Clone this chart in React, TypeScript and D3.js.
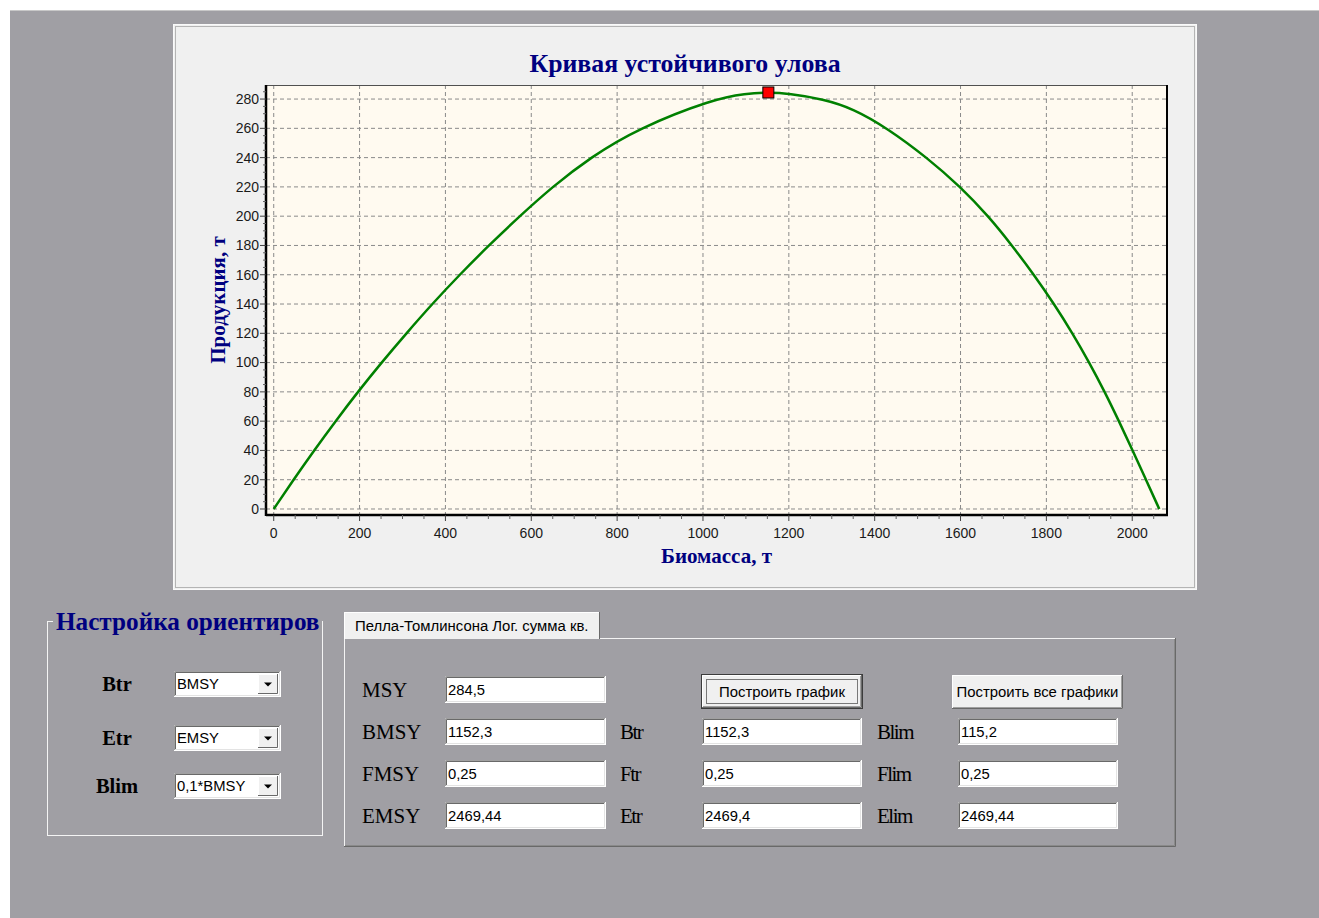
import React from 'react';
import * as d3 from 'd3';

// ---- data ----
const biomass = [0, 46, 94, 144, 196, 251, 309, 369, 433, 501, 573, 649, 737, 849, 1024, 1100, 1152.3, 1200, 1280, 1350, 1430, 1522, 1600, 1665, 1720, 1771, 1818, 1861, 1900, 1936, 1969, 2001, 2032, 2063];
const production = [0, 20, 40, 60, 80, 100, 120, 140, 160, 180, 200, 220, 240, 260, 280, 283.8, 284.5, 283.8, 280, 273.5, 260, 240, 220, 200, 180, 160, 140, 120, 100, 80, 60, 40, 20, 0];
const xTicks = [0, 200, 400, 600, 800, 1000, 1200, 1400, 1600, 1800, 2000];
const yTicks = [0, 20, 40, 60, 80, 100, 120, 140, 160, 180, 200, 220, 240, 260, 280];
const msyB = 1152.3;
const msyP = 284.5;

const chartTitle = 'Кривая устойчивого улова';
const xTitle = 'Биомасса, т';
const yTitle = 'Продукция, т';

const groupTitle = 'Настройка ориентиров';
const comboLabels = ['Btr', 'Etr', 'Blim'];
const comboValues = ['BMSY', 'EMSY', '0,1*BMSY'];

const tabTitle = 'Пелла-Томлинсона Лог. сумма кв.';
const col1Labels = ['MSY', 'BMSY', 'FMSY', 'EMSY'];
const col1Values = ['284,5', '1152,3', '0,25', '2469,44'];
const col2Labels = ['Btr', 'Ftr', 'Etr'];
const col2Values = ['1152,3', '0,25', '2469,4'];
const col3Labels = ['Blim', 'Flim', 'Elim'];
const col3Values = ['115,2', '0,25', '2469,44'];
const buttonLabels = ['Построить график', 'Построить все графики'];

// ---- layout ----
const W = 1319;
const H = 918;
const BG = '#a09fa4';
const PANEL = '#f0f0f0';
const NAVY = '#000080';
const SERIF = '"Liberation Serif", "Times New Roman", serif';
const SANS = '"Liberation Sans", Arial, sans-serif';

const plot = { left: 266, right: 1167, top: 85, bottom: 515 };

function Sunken({ x, y, w, h, text }: { x: number; y: number; w: number; h: number; text: string }) {
  return (
    <g>
      <rect x={x} y={y} width={w} height={h} fill="#ffffff" />
      <path d={`M${x + 0.5},${y + h} V${y + 0.5} H${x + w}`} stroke="#a0a0a0" fill="none" />
      <path d={`M${x + 1.5},${y + h - 1} V${y + 1.5} H${x + w - 1}`} stroke="#696969" fill="none" />
      <path d={`M${x},${y + h - 0.5} H${x + w - 0.5} V${y}`} stroke="#ffffff" fill="none" />
      <path d={`M${x + 1},${y + h - 1.5} H${x + w - 1.5} V${y + 1}`} stroke="#e3e3e3" fill="none" />
      <text x={x + 3} y={y + h / 2} dy="0.36em" fontFamily={SANS} fontSize={14.8} fill="#000">{text}</text>
    </g>
  );
}

function Raised({ x, y, w, h, text, def }: { x: number; y: number; w: number; h: number; text: string; def?: boolean }) {
  return (
    <g>
      <rect x={x} y={y} width={w} height={h} fill={PANEL} />
      <path d={`M${x + 0.5},${y + h} V${y + 0.5} H${x + w}`} stroke="#ffffff" fill="none" />
      <path d={`M${x},${y + h - 0.5} H${x + w - 0.5} V${y}`} stroke="#696969" fill="none" />
      <path d={`M${x + 1},${y + h - 1.5} H${x + w - 1.5} V${y + 1}`} stroke="#a0a0a0" fill="none" />
      {def && <rect x={x - 0.5} y={y - 0.5} width={w + 1} height={h + 1} fill="none" stroke="#3c3c3c" />}
      {def && <rect x={x + 4.5} y={y + 4.5} width={w - 9} height={h - 9} fill="none" stroke="#000" strokeDasharray="1,1" />}
      <text x={x + w / 2} y={y + h / 2} dy="0.36em" textAnchor="middle" fontFamily={SANS} fontSize={14.9} fill="#000">{text}</text>
    </g>
  );
}

function Combo({ x, y, w, h, text }: { x: number; y: number; w: number; h: number; text: string }) {
  const bx = x + w - 23;
  const by = y + 3;
  const bw = 20;
  const bh = h - 6;
  return (
    <g>
      <Sunken x={x} y={y} w={w} h={h} text={text} />
      <rect x={bx} y={by} width={bw} height={bh} fill={PANEL} />
      <path d={`M${bx + 0.5},${by + bh} V${by + 0.5} H${bx + bw}`} stroke="#ffffff" fill="none" />
      <path d={`M${bx},${by + bh - 0.5} H${bx + bw - 0.5} V${by}`} stroke="#696969" fill="none" />
      <path d={`M${bx + bw / 2 - 4},${by + bh / 2 - 1.5} h8 l-4,4 z`} fill="#000" />
    </g>
  );
}

export default function App() {
  const x = d3.scaleLinear().domain([-18, 2081]).range([plot.left, plot.right]);
  const y = d3.scaleLinear().domain([-4.1, 289.6]).range([plot.bottom, plot.top]);
  const pts: [number, number][] = biomass.map((b, i) => [b, production[i]]);
  const line = d3
    .line<[number, number]>()
    .x((d) => x(d[0]))
    .y((d) => y(d[1]))
    .curve(d3.curveBasis);

  const xMinor = d3.range(0, 2051, 50).filter((v) => v % 200 !== 0);
  const yMinor = d3.range(0, 286, 5).filter((v) => v % 20 !== 0);

  const rowY = [676, 718, 760, 802];
  const boxH = 27;

  return (
    <svg
      width={W}
      height={H}
      style={{ position: 'absolute', left: 0, top: 0, display: 'block' }}
      xmlns="http://www.w3.org/2000/svg"
    >
      <rect x={0} y={0} width={W} height={H} fill="#ffffff" />
      <rect x={10} y={10} width={W - 10} height={H - 10} fill={BG} />
      <line x1={10} x2={W} y1={10.5} y2={10.5} stroke="#c8c8c8" />

      {/* chart panel */}
      <rect x={173} y={24} width={1024} height={566} fill={PANEL} />
      <rect x={173.5} y={24.5} width={1023} height={565} fill="none" stroke="#fafafa" />
      <rect x={175.5} y={26.5} width={1019} height={561} fill="none" stroke="#b4b4b4" />

      <text x={685} y={63} dy="0.35em" textAnchor="middle" fontFamily={SERIF} fontWeight="bold" fontSize={25.8} fill={NAVY}>
        {chartTitle}
      </text>

      <rect x={plot.left} y={plot.top} width={plot.right - plot.left} height={plot.bottom - plot.top} fill="#fffaf0" />

      {/* grid */}
      {xTicks.map((t) => (
        <line key={'gx' + t} x1={x(t)} x2={x(t)} y1={plot.top} y2={plot.bottom} stroke="#8a8a8a" strokeDasharray="4,3" />
      ))}
      {yTicks.map((t) => (
        <line key={'gy' + t} x1={plot.left} x2={plot.right} y1={y(t)} y2={y(t)} stroke="#8a8a8a" strokeDasharray="4,3" />
      ))}

      {/* frame */}
      <line x1={plot.left} x2={plot.right} y1={plot.top + 0.5} y2={plot.top + 0.5} stroke="#505050" />
      <line x1={plot.right} x2={plot.right} y1={plot.top} y2={plot.bottom} stroke="#000" strokeWidth={2} />
      <line x1={plot.left} x2={plot.left} y1={plot.top} y2={plot.bottom + 1} stroke="#000" strokeWidth={2.5} />
      <line x1={plot.left} x2={plot.right + 1} y1={plot.bottom} y2={plot.bottom} stroke="#000" strokeWidth={2.5} />

      {/* ticks */}
      {xTicks.map((t) => (
        <g key={'tx' + t}>
          <line x1={x(t)} x2={x(t)} y1={plot.bottom} y2={plot.bottom + 6} stroke="#404040" />
          <text x={x(t)} y={533} dy="0.35em" textAnchor="middle" fontFamily={SANS} fontSize={14} fill="#1a1a1a">
            {t}
          </text>
        </g>
      ))}
      {xMinor.map((t) => (
        <line key={'mx' + t} x1={x(t)} x2={x(t)} y1={plot.bottom} y2={plot.bottom + 4} stroke="#606060" />
      ))}
      {yTicks.map((t) => (
        <g key={'ty' + t}>
          <line x1={plot.left - 6} x2={plot.left} y1={y(t)} y2={y(t)} stroke="#404040" />
          <text x={plot.left - 7} y={y(t)} dy="0.35em" textAnchor="end" fontFamily={SANS} fontSize={14} fill="#1a1a1a">
            {t}
          </text>
        </g>
      ))}
      {yMinor.map((t) => (
        <line key={'my' + t} x1={plot.left - 3} x2={plot.left} y1={y(t)} y2={y(t)} stroke="#606060" />
      ))}

      {/* curve */}
      <path d={line(pts) || ''} fill="none" stroke="#008000" strokeWidth={2.5} />
      <rect x={x(msyB) - 5.5} y={y(msyP) - 5.5} width={11} height={11} fill="#ff0000" stroke="#000" strokeWidth={1} />

      <text x={(plot.left + plot.right) / 2} y={556} dy="0.35em" textAnchor="middle" fontFamily={SERIF} fontWeight="bold" fontSize={21} fill={NAVY}>
        {xTitle}
      </text>
      <text
        transform={`translate(218,${(plot.top + plot.bottom) / 2}) rotate(-90)`}
        dy="0.35em"
        textAnchor="middle"
        fontFamily={SERIF}
        fontWeight="bold"
        fontSize={21}
        fill={NAVY}
      >
        {yTitle}
      </text>

      {/* group box */}
      <rect x={47.5} y={621.5} width={275} height={214} fill="none" stroke="#f4f4f4" />
      <rect x={53} y={606} width={269} height={28} fill={BG} />
      <text x={56} y={621} dy="0.35em" fontFamily={SERIF} fontWeight="bold" fontSize={25.2} fill={NAVY}>
        {groupTitle}
      </text>
      {comboLabels.map((l, i) => {
        const cy = [671, 725, 773][i];
        return (
          <g key={'cb' + i}>
            <text x={117} y={cy + 13} dy="0.35em" textAnchor="middle" fontFamily={SERIF} fontWeight="bold" fontSize={20.5} fill="#000">
              {l}
            </text>
            <Combo x={174} y={cy} w={107} h={26} text={comboValues[i]} />
          </g>
        );
      })}

      {/* tab control */}
      <path d={`M344.5,847 V638.5 H1176`} stroke="#f4f4f4" fill="none" />
      <path d={`M344,846.5 H1175.5 V638`} stroke="#696969" fill="none" />
      <path d={`M345,845.5 H1174.5 V639`} stroke="#8a8a8a" fill="none" />
      <rect x={344} y={612} width={256} height={27} fill={PANEL} />
      <path d={`M344.5,639 V612.5 H599`} stroke="#ffffff" fill="none" />
      <path d={`M599.5,612 V639`} stroke="#696969" fill="none" />
      <text x={355} y={626} dy="0.35em" fontFamily={SANS} fontSize={14.9} fill="#000">
        {tabTitle}
      </text>

      {col1Labels.map((l, i) => (
        <g key={'c1' + i}>
          <text x={362} y={rowY[i] + boxH / 2} dy="0.35em" fontFamily={SERIF} fontSize={21} fill="#000">
            {l}
          </text>
          <Sunken x={445} y={rowY[i]} w={161} h={boxH} text={col1Values[i]} />
        </g>
      ))}
      {col2Labels.map((l, i) => (
        <g key={'c2' + i}>
          <text x={620} y={rowY[i + 1] + boxH / 2} dy="0.35em" fontFamily={SERIF} fontSize={21} fill="#000" letterSpacing={-1.5}>
            {l}
          </text>
          <Sunken x={702} y={rowY[i + 1]} w={160} h={boxH} text={col2Values[i]} />
        </g>
      ))}
      {col3Labels.map((l, i) => (
        <g key={'c3' + i}>
          <text x={877} y={rowY[i + 1] + boxH / 2} dy="0.35em" fontFamily={SERIF} fontSize={21} fill="#000" letterSpacing={-1.5}>
            {l}
          </text>
          <Sunken x={958} y={rowY[i + 1]} w={160} h={boxH} text={col3Values[i]} />
        </g>
      ))}
      <Raised x={702} y={675} w={160} h={33} text={buttonLabels[0]} def />
      <Raised x={952} y={675} w={171} h={34} text={buttonLabels[1]} />
    </svg>
  );
}
